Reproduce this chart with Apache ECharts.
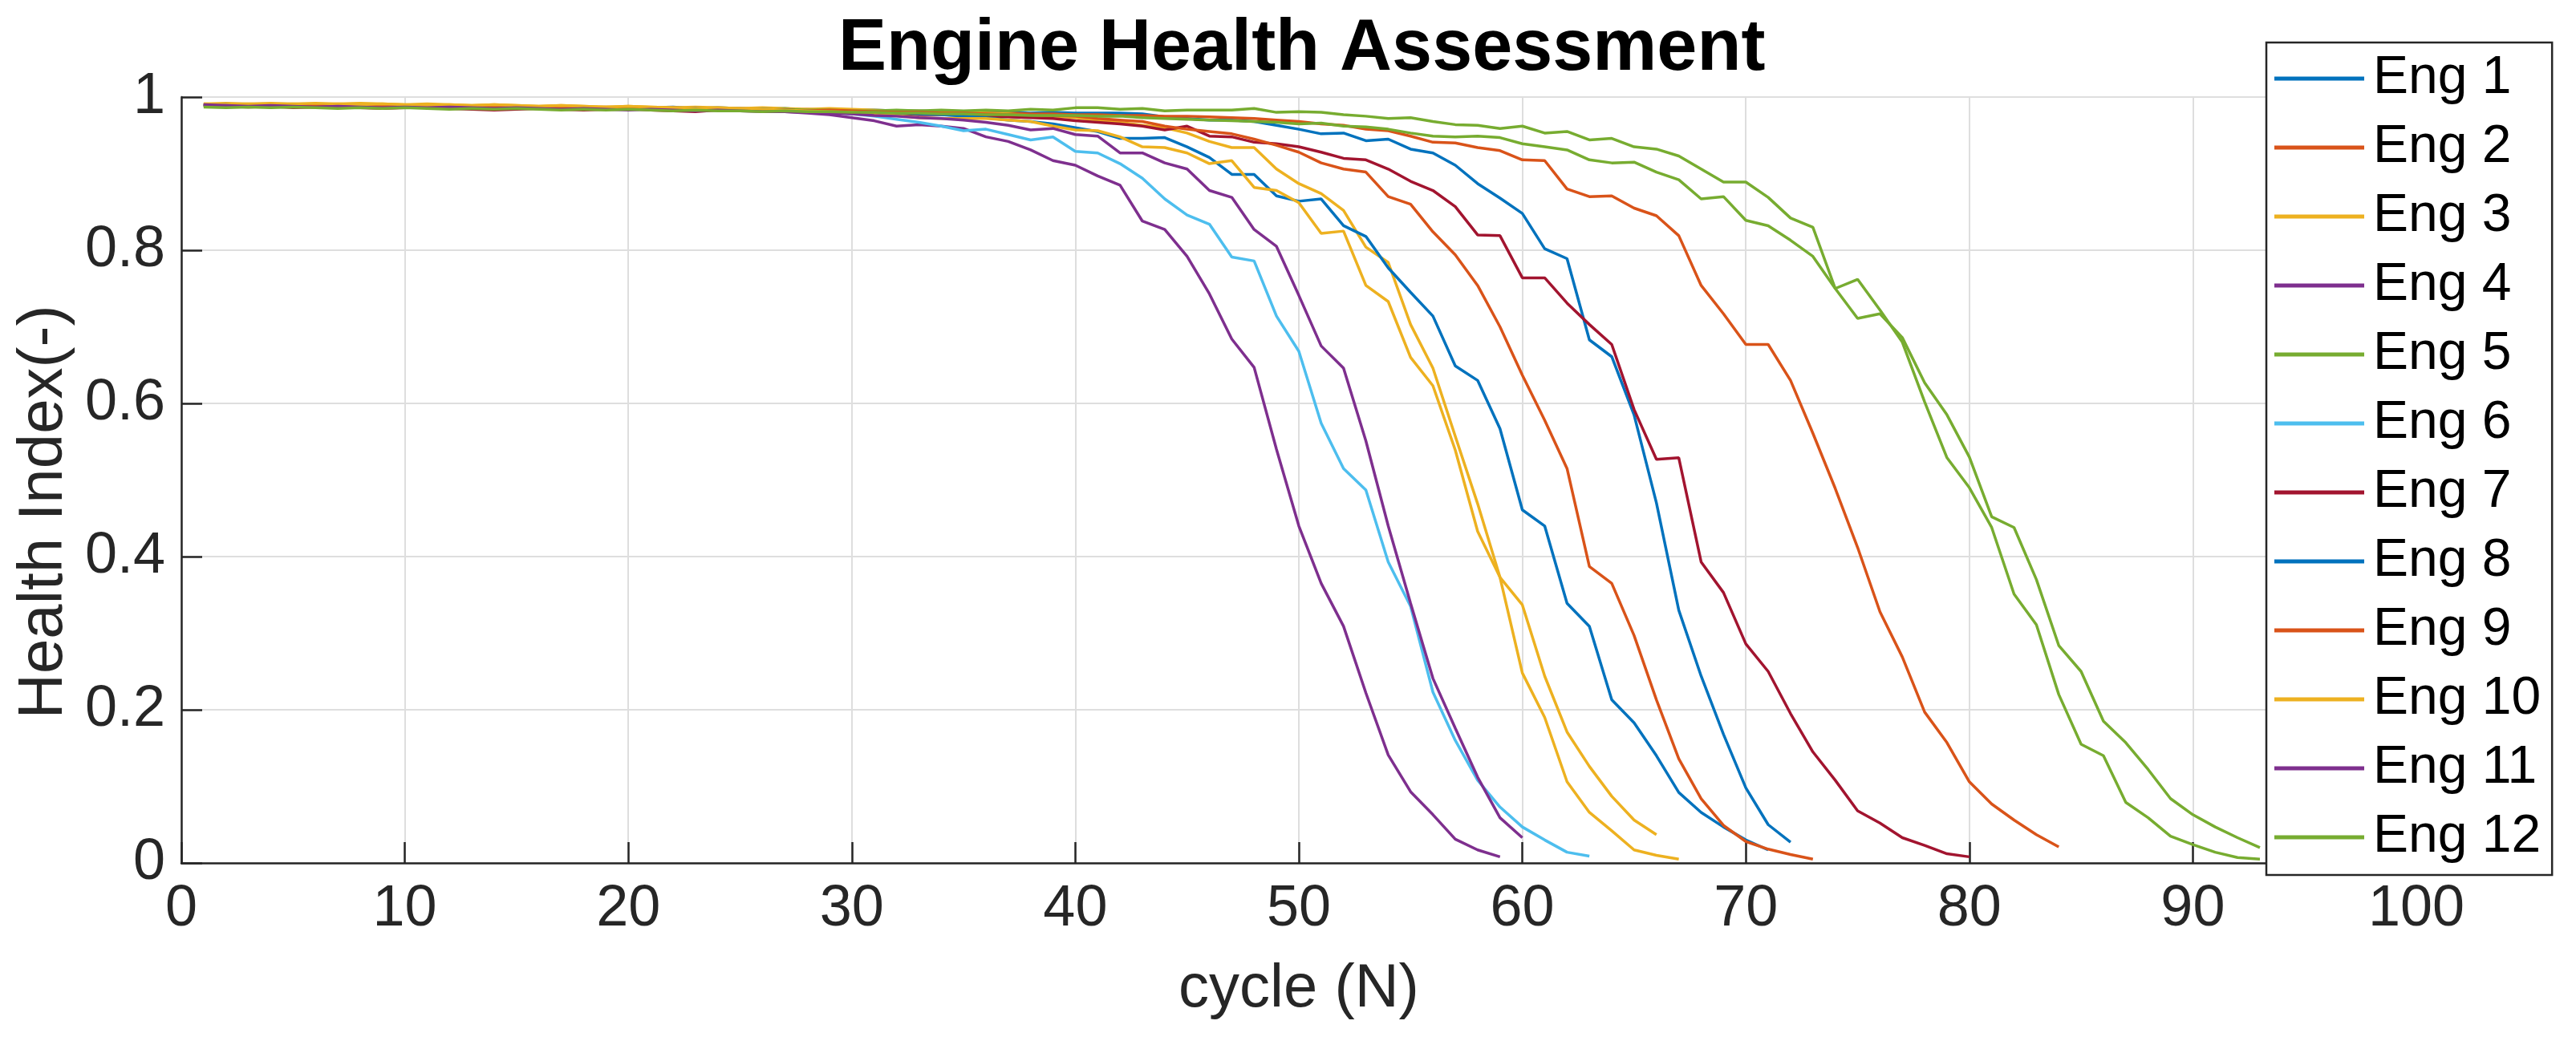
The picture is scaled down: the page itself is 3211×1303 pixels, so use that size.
<!DOCTYPE html>
<html>
<head>
<meta charset="utf-8">
<script src="https://cdn.jsdelivr.net/npm/echarts@6.0.0/dist/echarts.min.js"></script>
<style>
html,body{margin:0;padding:0;background:#fff;}
#chart{width:3211px;height:1303px;}
</style>
</head>
<body>
<div id="chart"></div>
<script>
// Health index per cycle (cycle = index + 1)
var eng1 = [0.990,0.991,0.990,0.989,0.990,0.989,0.990,0.989,0.988,0.989,
0.988,0.989,0.988,0.987,0.988,0.987,0.988,0.987,0.986,0.987,
0.986,0.987,0.985,0.986,0.985,0.984,0.985,0.983,0.984,0.983,
0.983,0.982,0.982,0.981,0.981,0.980,0.980,0.979,0.980,
0.979,0.979,0.979,0.978,0.974,0.972,0.970,0.970,0.968,0.963,
0.958,0.952,0.953,0.943,0.945,0.932,0.927,0.911,0.887,0.868,
0.848,0.802,0.789,0.683,0.661,0.585,0.470,0.330,0.244,0.168,
0.098,0.050,0.027];
var eng2 = [0.989,0.990,0.989,0.990,0.988,0.989,0.990,0.989,0.988,0.989,
0.988,0.987,0.988,0.988,0.987,0.986,0.987,0.986,0.987,0.986,
0.985,0.986,0.985,0.984,0.985,0.984,0.983,0.984,0.983,0.982,
0.982,0.981,0.981,0.980,0.980,0.979,0.979,0.978,0.978,
0.977,0.977,0.976,0.976,0.975,0.975,0.974,0.973,0.972,0.970,
0.968,0.965,0.963,0.958,0.956,0.949,0.941,0.940,0.934,0.930,
0.918,0.917,0.880,0.870,0.871,0.855,0.845,0.819,0.754,0.717,
0.677,0.677,0.630,0.561,0.489,0.412,0.328,0.269,0.197,0.157,
0.106,0.077,0.056,0.037,0.021];
var eng3 = [0.991,0.992,0.991,0.992,0.991,0.990,0.991,0.992,0.991,0.990,
0.991,0.990,0.989,0.990,0.989,0.988,0.989,0.988,0.987,0.988,
0.987,0.986,0.987,0.986,0.985,0.986,0.985,0.984,0.985,0.984,
0.983,0.982,0.982,0.981,0.980,0.979,0.978,0.976,0.975,0.973,0.970,0.967,0.963,
0.960,0.953,0.942,0.934,0.934,0.906,
0.887,0.874,0.852,0.804,0.784,0.703,0.646,0.557,
0.469,0.373,0.337,0.244,0.171,0.126,0.087,0.056,0.037];
var eng4 = [0.990,0.989,0.988,0.989,0.988,0.989,0.988,0.987,0.988,0.987,
0.987,0.988,0.987,0.986,0.987,0.986,0.987,0.986,0.985,0.986,
0.985,0.984,0.985,0.984,0.983,0.982,0.981,0.979,0.977,0.973,
0.969,0.962,0.964,0.962,0.959,0.948,0.942,0.931,0.917,0.911,
0.897,0.885,0.838,0.827,0.792,0.743,0.684,0.647,0.540,0.440,
0.365,0.309,0.222,0.141,0.093,0.063,0.031,0.017,0.008];
var eng5 = [0.988,0.989,0.988,0.987,0.988,0.989,0.988,0.987,0.988,0.987,
0.988,0.987,0.986,0.987,0.986,0.987,0.986,0.985,0.986,0.985,
0.986,0.985,0.984,0.985,0.984,0.983,0.984,0.983,0.983,0.982,
0.982,0.983,0.982,0.983,0.982,0.983,0.982,0.984,0.983,
0.986,0.986,0.984,0.985,0.982,0.983,0.983,0.983,0.985,0.980,
0.981,0.980,0.977,0.975,0.972,0.973,0.968,0.964,0.963,0.959,
0.962,0.953,0.955,0.944,0.946,0.935,0.932,0.923,0.906,0.889,
0.889,0.869,0.842,0.830,0.750,0.711,0.717,0.686,0.627,0.585,
0.530,0.452,0.438,0.370,0.284,0.250,0.185,0.157,0.122,0.084,
0.063,0.047,0.033,0.020];
var eng6 = [0.990,0.989,0.990,0.989,0.988,0.989,0.988,0.989,0.988,0.987,
0.988,0.987,0.988,0.987,0.986,0.987,0.986,0.985,0.986,0.985,
0.984,0.985,0.984,0.983,0.984,0.983,0.982,0.981,0.980,0.978,
0.975,0.971,0.967,0.962,
0.956,0.958,0.951,0.944,0.948,0.929,0.927,0.913,0.894,0.867,
0.846,0.834,0.791,0.786,0.714,0.668,0.574,0.515,0.487,0.393,
0.335,0.223,0.160,0.108,0.073,0.047,0.030,0.014,0.009];
var eng7 = [0.989,0.988,0.987,0.988,0.986,0.987,0.988,0.986,0.985,0.986,
0.987,0.985,0.984,0.983,0.984,0.985,0.984,0.983,0.984,0.985,
0.983,0.982,0.981,0.983,0.984,0.982,0.983,0.982,0.981,0.980,
0.979,0.978,0.977,0.977,0.976,0.975,0.974,0.973,
0.972,0.969,0.967,0.965,0.962,0.957,0.962,0.949,0.948,0.941,0.939,
0.935,0.928,0.920,0.918,0.906,0.890,0.878,0.857,0.820,0.819,
0.764,0.764,0.731,0.703,0.677,0.592,0.527,0.529,0.393,0.353,
0.286,0.250,0.195,0.145,0.108,0.068,0.052,0.033,0.023,0.012,0.008];
var eng8 = [0.989,0.990,0.989,0.988,0.989,0.990,0.989,0.988,0.989,0.988,
0.987,0.988,0.987,0.988,0.987,0.986,0.987,0.986,0.985,0.986,
0.985,0.984,0.985,0.984,0.983,0.984,0.983,0.982,0.982,0.981,
0.980,0.979,0.978,0.977,0.975,0.973,0.970,0.968,0.965,0.960,0.955,
0.946,0.946,0.947,0.935,0.921,0.899,0.899,0.871,
0.864,0.867,0.832,0.818,0.777,0.745,0.714,0.649,0.630,0.567,
0.461,0.440,0.339,0.309,0.213,0.183,0.140,0.092,0.066,0.047,0.030,0.017];
var eng9 = [0.990,0.989,0.988,0.989,0.990,0.989,0.988,0.989,0.988,0.987,
0.988,0.987,0.986,0.987,0.986,0.987,0.986,0.985,0.986,0.985,
0.984,0.985,0.984,0.985,0.984,0.983,0.983,0.982,0.983,0.982,
0.981,0.980,0.980,0.979,0.979,0.978,0.977,0.977,0.976,
0.975,0.972,0.970,0.968,0.962,0.958,0.955,0.952,0.945,0.937,
0.928,0.914,0.906,0.902,0.870,0.860,0.824,0.794,0.754,0.700,
0.637,0.578,0.515,0.387,0.365,0.297,0.213,0.136,0.084,0.049,0.028,0.018,0.011,0.005];
var eng10 = [0.991,0.990,0.991,0.990,0.991,0.992,0.991,0.990,0.991,0.990,
0.989,0.990,0.989,0.990,0.989,0.988,0.989,0.988,0.987,0.988,
0.987,0.986,0.985,0.986,0.985,0.984,0.983,0.982,0.981,0.980,
0.978,0.976,
0.973,0.972,0.972,0.972,0.970,0.968,0.962,0.957,0.956,
0.948,0.935,0.934,0.927,0.913,0.917,0.882,0.878,0.862,0.822,0.825,0.754,0.733,
0.660,0.623,0.539,0.433,0.373,0.248,0.190,0.106,0.066,0.042,0.017,0.010,0.005];
var eng11 = [0.990,0.989,0.988,0.989,0.988,0.987,0.988,0.987,0.986,0.987,
0.986,0.987,0.986,0.985,0.986,0.985,0.984,0.985,0.984,0.983,
0.984,0.983,0.982,0.983,0.982,0.981,0.981,0.980,0.979,0.978,
0.976,0.975,0.973,0.972,0.970,0.967,
0.963,0.957,0.959,0.951,0.949,0.927,0.927,0.914,0.906,0.878,0.869,0.827,0.805,
0.741,0.675,0.646,0.551,0.440,0.339,0.241,0.176,0.112,0.059,0.033];
var eng12 = [0.987,0.986,0.987,0.986,0.987,0.986,0.985,0.986,0.985,0.986,
0.985,0.984,0.985,0.984,0.985,0.984,0.983,0.984,0.983,0.984,
0.983,0.982,0.983,0.982,0.982,0.981,0.982,0.981,0.981,0.980,
0.980,0.979,0.979,0.978,0.978,0.977,0.977,0.976,0.976,
0.976,0.975,0.975,0.973,0.972,0.971,0.970,0.969,0.968,0.967,
0.965,0.966,0.962,0.961,0.958,0.953,0.949,0.948,0.949,0.947,
0.939,0.935,0.931,0.918,0.914,0.915,0.902,0.892,0.867,0.870,
0.839,0.832,0.813,0.792,0.750,0.762,0.722,0.680,0.602,0.529,
0.490,0.438,0.351,0.311,0.220,0.155,0.140,0.079,0.059,0.035,
0.024,0.014,0.007,0.005];

var seriesNames = ['Eng 1','Eng 2','Eng 3','Eng 4','Eng 5','Eng 6','Eng 7','Eng 8','Eng 9','Eng 10','Eng 11','Eng 12'];
var seriesValues = [eng1,eng2,eng3,eng4,eng5,eng6,eng7,eng8,eng9,eng10,eng11,eng12];
var colors = ['#0072BD','#D95319','#EDB120','#7E2F8E','#77AC30','#4DBEEE','#A2142F',
              '#0072BD','#D95319','#EDB120','#7E2F8E','#77AC30'];
var xTicks = {min:0, max:100, interval:10};
var yTicks = {min:0, max:1, interval:0.2};

var FONT = 'Liberation Sans, Arial, Helvetica, sans-serif';
var AX = '#262626';

var chart = echarts.init(document.getElementById('chart'), null, {renderer:'canvas'});
var series = seriesValues.map(function(vals, k){
  return {
    name: seriesNames[k],
    type: 'line',
    symbol: 'none',
    showSymbol: false,
    smooth: false,
    color: colors[k],
    lineStyle: {width: 3.5, color: colors[k]},
    data: vals.map(function(v, i){ return [i + 1, v]; })
  };
});

chart.setOption({
  animation: false,
  backgroundColor: '#fff',
  title: {
    text: 'Engine Health Assessment',
    left: 1040, top: 12,
    textStyle: {fontFamily: FONT, fontSize: 90, fontWeight: 'bold', color: '#000'}
  },
  legend: {
    orient: 'vertical',
    left: 2825, top: 53,
    icon: 'rect',
    itemWidth: 112, itemHeight: 5,
    itemGap: 20,
    padding: [12, 14, 14, 10],
    backgroundColor: '#fff',
    borderColor: AX, borderWidth: 2.5,
    textStyle: {fontFamily: FONT, fontSize: 66, lineHeight: 66, color: '#000', padding: [0,0,0,6]},
    data: seriesNames
  },
  grid: {left: 226, right: 199, top: 121, bottom: 227},
  xAxis: {
    type: 'value', min: xTicks.min, max: xTicks.max, interval: xTicks.interval,
    name: 'cycle (N)', nameLocation: 'middle', nameGap: 120,
    nameTextStyle: {fontFamily: FONT, fontSize: 76, color: AX},
    axisLine: {show: true, onZero: false, lineStyle: {color: AX, width: 2.5}},
    axisTick: {show: true, inside: true, length: 26, lineStyle: {color: AX, width: 2.5}},
    axisLabel: {fontFamily: FONT, fontSize: 72, color: AX, margin: 22},
    splitLine: {show: true, lineStyle: {color: '#dedede', width: 2}}
  },
  yAxis: {
    type: 'value', min: yTicks.min, max: yTicks.max, interval: yTicks.interval,
    name: 'Health Index(-)', nameLocation: 'middle', nameGap: 132,
    nameTextStyle: {fontFamily: FONT, fontSize: 78, color: AX, padding: [0, 80, 0, 0]},
    axisLine: {show: true, onZero: false, lineStyle: {color: AX, width: 2.5}},
    axisTick: {show: true, inside: true, length: 26, lineStyle: {color: AX, width: 2.5}},
    axisLabel: {fontFamily: FONT, fontSize: 72, color: AX, margin: 20},
    splitLine: {show: true, lineStyle: {color: '#dedede', width: 2}}
  },
  series: series
});
</script>
</body>
</html>
